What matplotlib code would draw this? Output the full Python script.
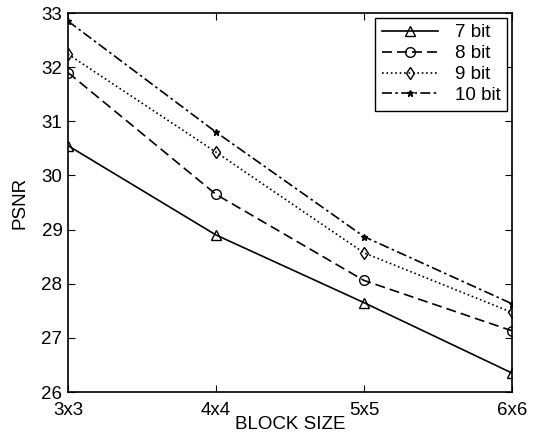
import numpy as np
import matplotlib.pyplot as plt

plt.rcParams['font.family'] = ['Liberation Sans', 'DejaVu Sans']

block_sizes = ['3x3', '4x4', '5x5', '6x6']
psnr_7bit = [30.55, 28.90, 27.65, 26.35]
psnr_8bit = [31.90, 29.65, 28.06, 27.13]
psnr_9bit = [32.24, 30.43, 28.57, 27.47]
psnr_10bit = [32.85, 30.80, 28.87, 27.63]

x = np.arange(len(block_sizes))

fig = plt.figure(figsize=(5.37, 4.44), dpi=100)
ax = fig.add_axes([68 / 537, 52 / 444, 444 / 537, 379 / 444])

ax.plot(x, psnr_7bit, 'k-', marker='^', mfc='none', ms=7, lw=1.2, label='7 bit')
ax.plot(x, psnr_8bit, 'k', ls=(0, (6, 3)), marker='o', mfc='none', ms=7, lw=1.2, label='8 bit')
ax.plot(x, psnr_9bit, 'k:', marker='d', mfc='none', ms=6, lw=1.2, label='9 bit')
ax.plot(x, psnr_10bit, 'k', ls=(0, (6, 2, 1.5, 2)), marker='*', ms=5, lw=1.2, label='10 bit')

ax.set_xlim(0, 3)
ax.set_ylim(26, 33)
ax.set_xticks(x)
ax.set_xticklabels(block_sizes)
ax.set_yticks(range(26, 34))
ax.tick_params(direction='in', top=True, right=True, length=5, labelsize=13.5, pad=4)
ax.tick_params(axis='x', pad=7)
ax.set_xlabel('BLOCK SIZE', fontsize=13.5, labelpad=-2)
ax.set_ylabel('PSNR', fontsize=13.5, labelpad=9)
for s in ax.spines.values():
    s.set_linewidth(1.2)

leg = ax.legend(loc='upper right', fontsize=13.5, fancybox=False, edgecolor='k',
                framealpha=1, handlelength=3.0, borderaxespad=0.25, labelspacing=0.2,
                handletextpad=0.9, borderpad=0.35)
leg.get_frame().set_linewidth(1.0)

fig.savefig('out.png', dpi=100)
